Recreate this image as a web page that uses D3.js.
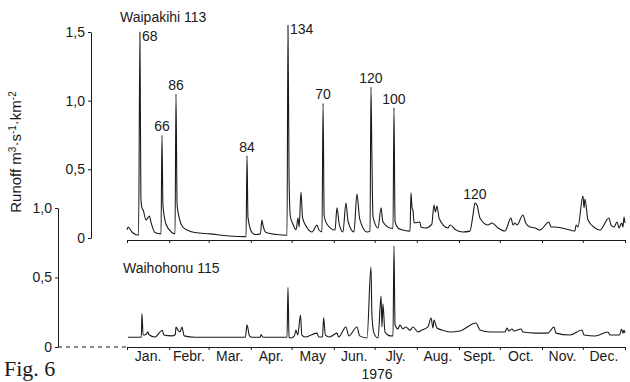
<!DOCTYPE html>
<html>
<head>
<meta charset="utf-8">
<script src="https://cdn.jsdelivr.net/npm/d3@7"></script>
<style>
  body { margin: 0; background: #fff; }
  text { font-family: "Liberation Sans", Arial, sans-serif; fill: #1a1a1a; }
</style>
</head>
<body>
<div id="chart"></div>
<script>
const waipakihiDay = [0, 0.8, 4, 8.5, 9.5, 10.2, 11, 12, 14, 16.5, 17.5, 20.6, 25, 25.7, 26.4, 28.7, 33, 35.3, 36, 36.8, 37.5, 41, 45, 50, 61, 75, 87.5,
  88.2, 88.9, 91.9, 94.8, 98, 99.2, 100, 102.2, 110, 117.6, 118.3, 119.1, 120, 122, 124.2, 125.7, 126.5, 127.9, 129, 132, 136, 139.6, 141, 143.3,
  144.1, 144.9, 147, 152.9, 154.3, 156, 158.7, 160.9, 162.5, 166.8, 169, 171, 176.4, 178.6, 179.3, 179.9, 180.8, 184.5, 186.7, 188, 193.3, 195.5,
  196.2, 197, 199.2, 202, 208, 208.7, 209.5, 210.2, 211, 215.3, 216, 219, 224, 225.6, 226.7, 227.8, 229.5, 235.9, 237.4, 241.8, 246.9, 252,
  254.3, 255.7, 257.2, 259.4, 265.3, 268.2, 272.7, 277.8, 282.2, 283.7, 285.1, 286.6, 291, 293, 296.2, 299.9, 303.5, 310.1, 311.6, 314.5,
  325.6, 329.2, 330, 331.4, 335.1, 335.9, 336.6, 338.8, 344, 347.6, 354.2, 355.7, 357.9, 360.1, 361.6, 363.5, 364.5, 365.3, 366];
const waipakihiRunoff = [0.06, 0.08, 0.04, 0.02, 1.5, 0.29, 0.22, 0.2, 0.13, 0.16, 0.12, 0.04, 0.03, 0.75, 0.24, 0.1, 0.04, 0.03, 1.05, 0.25, 0.19, 0.08, 0.055, 0.04, 0.03, 0.015, 0.01,
  0.6, 0.15, 0.04, 0.025, 0.03, 0.13, 0.09, 0.04, 0.025, 0.02, 1.55, 0.44, 0.16, 0.1, 0.06, 0.146, 0.08, 0.335, 0.15, 0.08, 0.044, 0.095, 0.06, 0.044,
  0.98, 0.16, 0.1, 0.058, 0.219, 0.1, 0.044, 0.255, 0.12, 0.044, 0.32, 0.14, 0.044, 0.05, 1.1, 0.66, 0.153, 0.073, 0.22, 0.12, 0.073, 0.07,
  0.95, 0.12, 0.073, 0.06, 0.05, 0.33, 0.22, 0.2, 0.11, 0.117, 0.08, 0.073, 0.1, 0.24, 0.19, 0.233, 0.14, 0.073, 0.095, 0.058, 0.044, 0.05,
  0.168, 0.255, 0.24, 0.146, 0.095, 0.109, 0.073, 0.051, 0.146, 0.095, 0.109, 0.095, 0.168, 0.11, 0.08, 0.073, 0.058, 0.117, 0.08, 0.08,
  0.058, 0.051, 0.095, 0.08, 0.306, 0.219, 0.284, 0.131, 0.073, 0.058, 0.146, 0.095, 0.08, 0.117, 0.073, 0.109, 0.08, 0.153, 0.109];

const waihohonuDay = [0.7, 8, 10.5, 11, 11.8, 14, 15.4, 16, 20.6, 26, 27, 33, 35.5, 36, 37.5, 39, 40.4, 42, 50, 87, 88.2, 90, 92, 98, 98.5, 100,
  117.6, 118.3, 119.1, 120.5, 123, 124.2, 125.5, 127.5, 128.5, 131, 139.6, 141, 143.7, 144.5, 145.8, 149, 154.3, 155.5, 160.9, 163, 169, 171,
  176.4, 179.3, 180, 181.5, 184.5, 186.7, 187.4, 188.1, 189.6, 193.3, 195.5, 196.2, 197, 199.2, 200.6, 202.8, 205, 208, 210.2, 213.9, 216.8,
  221.2, 223.4, 224.9, 225.6, 227.8, 231.5, 237.4, 244.7, 256.5, 259.4, 266.8, 277.8, 279.3, 280.7, 282.9, 284.4, 289.6, 291, 299.9, 309.4,
  313.8, 315.3, 325.6, 334.4, 335.9, 344, 353.5, 355, 362, 363.5, 364.5, 365.3, 366];
const waihohonuRunoff = [0.07, 0.07, 0.07, 0.24, 0.086, 0.09, 0.11, 0.09, 0.072, 0.12, 0.086, 0.08, 0.09, 0.144, 0.12, 0.11, 0.144, 0.08, 0.07, 0.07, 0.16, 0.08, 0.07, 0.07, 0.09, 0.07,
  0.07, 0.43, 0.07, 0.065, 0.08, 0.122, 0.086, 0.23, 0.086, 0.072, 0.1, 0.072, 0.072, 0.21, 0.086, 0.072, 0.1, 0.072, 0.144, 0.08, 0.144, 0.08,
  0.065, 0.576, 0.23, 0.1, 0.065, 0.367, 0.144, 0.31, 0.108, 0.08, 0.08, 0.727, 0.158, 0.13, 0.158, 0.13, 0.144, 0.12, 0.144, 0.108, 0.122,
  0.144, 0.209, 0.137, 0.194, 0.137, 0.122, 0.108, 0.115, 0.173, 0.122, 0.108, 0.108, 0.137, 0.115, 0.13, 0.115, 0.13, 0.108, 0.1, 0.1,
  0.144, 0.1, 0.086, 0.122, 0.086, 0.079, 0.108, 0.086, 0.086, 0.13, 0.1, 0.122, 0.1];

const monthLabels = ["Jan.", "Febr.", "Mar.", "Apr.", "May", "Jun.", "Jly.", "Aug.", "Sept.", "Oct.", "Nov.", "Dec."];

// peak annotations on the upper hydrograph (day of year, label)
const peakDay = [9.5, 25.7, 36, 88.2, 118.3, 144.1, 179.3, 196.2, 255.7];
const peakText = ["68", "66", "86", "84", "134", "70", "120", "100", "120"];
const peakBeside = [true, false, false, false, true, false, false, false, false];

const W = 630, H = 382;
const svg = d3.select("#chart").append("svg")
    .attr("width", W)
    .attr("height", H)
    .style("background", "#fff");

const t0 = Date.UTC(1976, 0, 1);
const toDate = d => new Date(t0 + d * 864e5);

const x = d3.scaleUtc()
    .domain([new Date(Date.UTC(1976, 0, 1)), new Date(Date.UTC(1977, 0, 1))])
    .range([127, 625]);

const yTop = d3.scaleLinear().domain([0, 1.5]).range([238, 32]);
const yBot = d3.scaleLinear().domain([0, 1]).range([347, 208]);

const comma = d => d === 0 ? "0" : d3.format(".1f")(d).replace(".", ",");
const months = d3.utcMonth.range(x.domain()[0], d3.utcDay.offset(x.domain()[1], 1));

function styleAxis(g) {
    g.selectAll("path, line").attr("stroke", "#1a1a1a").attr("stroke-width", 1);
    g.selectAll("text").attr("font-size", 14).attr("fill", "#1a1a1a")
        .style("font-family", "'Liberation Sans', Arial, sans-serif");
}

// y axes
svg.append("g")
    .attr("transform", "translate(91,0)")
    .call(d3.axisLeft(yTop).tickValues([0, 0.5, 1, 1.5]).tickFormat(comma).tickSize(3).tickSizeOuter(0).tickPadding(3))
    .call(styleAxis);

svg.append("g")
    .attr("transform", "translate(58,0)")
    .call(d3.axisLeft(yBot).tickValues([0, 0.5, 1]).tickFormat(comma).tickSize(3).tickSizeOuter(0).tickPadding(3))
    .call(styleAxis);

// x axes (month boundaries)
svg.append("g")
    .attr("transform", "translate(0,240)")
    .call(d3.axisBottom(x).tickValues(months).tickFormat("").tickSize(3).tickSizeOuter(0))
    .call(styleAxis);

svg.append("g")
    .attr("transform", "translate(0,347)")
    .call(d3.axisBottom(x).tickValues(months).tickFormat("").tickSize(3).tickSizeOuter(0))
    .call(styleAxis);

// dashed zero line joining the lower axis
svg.append("line")
    .attr("x1", 58).attr("x2", x.range()[0])
    .attr("y1", yBot(0)).attr("y2", yBot(0))
    .attr("stroke", "#1a1a1a")
    .attr("stroke-dasharray", "4,4");

// month names centred in each month
svg.append("g").selectAll("text")
    .data(monthLabels)
    .join("text")
    .attr("x", (d, i) => (x(months[i]) + x(d3.utcMonth.offset(months[i], 1))) / 2)
    .attr("y", 361)
    .attr("text-anchor", "middle")
    .attr("font-size", 14)
    .text(d => d);

// hydrographs
const lineTop = d3.line()
    .x((d, i) => x(toDate(waipakihiDay[i])))
    .y(d => yTop(d))
    .curve(d3.curveMonotoneX);
const lineBot = d3.line()
    .x((d, i) => x(toDate(waihohonuDay[i])))
    .y(d => yBot(d))
    .curve(d3.curveMonotoneX);

svg.append("path")
    .attr("d", lineTop(waipakihiRunoff))
    .attr("fill", "none")
    .attr("stroke", "#1a1a1a")
    .attr("stroke-width", 1.1)
    .attr("stroke-linejoin", "round");

svg.append("path")
    .attr("d", lineBot(waihohonuRunoff))
    .attr("fill", "none")
    .attr("stroke", "#1a1a1a")
    .attr("stroke-width", 1.1)
    .attr("stroke-linejoin", "round");

// peak labels
svg.append("g").selectAll("text")
    .data(peakText)
    .join("text")
    .attr("x", (d, i) => x(toDate(peakDay[i])) + (peakBeside[i] ? 2 : 0))
    .attr("y", (d, i) => {
        const v = waipakihiRunoff[waipakihiDay.indexOf(peakDay[i])];
        return peakBeside[i] ? yTop(v) + 9 : yTop(v) - 4;
    })
    .attr("text-anchor", (d, i) => peakBeside[i] ? "start" : "middle")
    .attr("font-size", 14)
    .text(d => d);

// titles
svg.append("text").attr("x", 120).attr("y", 22).attr("font-size", 14).text("Waipakihi 113");
svg.append("text").attr("x", 123).attr("y", 273).attr("font-size", 14).text("Waihohonu 115");
svg.append("text").attr("x", 377).attr("y", 379).attr("text-anchor", "middle").attr("font-size", 14).text("1976");

const yl = svg.append("text")
    .attr("transform", "translate(21,152) rotate(-90)")
    .attr("text-anchor", "middle")
    .attr("font-size", 15);
yl.append("tspan").text("Runoff  m");
yl.append("tspan").attr("dy", -5).attr("font-size", 10).text("3");
yl.append("tspan").attr("dy", 5).text("·s");
yl.append("tspan").attr("dy", -5).attr("font-size", 10).text("-1");
yl.append("tspan").attr("dy", 5).text("·km");
yl.append("tspan").attr("dy", -5).attr("font-size", 10).text("-2");

svg.append("text")
    .attr("x", 4).attr("y", 376)
    .attr("font-size", 22)
    .style("font-family", "'Liberation Serif', 'DejaVu Serif', serif")
    .text("Fig. 6");
</script>
</body>
</html>
